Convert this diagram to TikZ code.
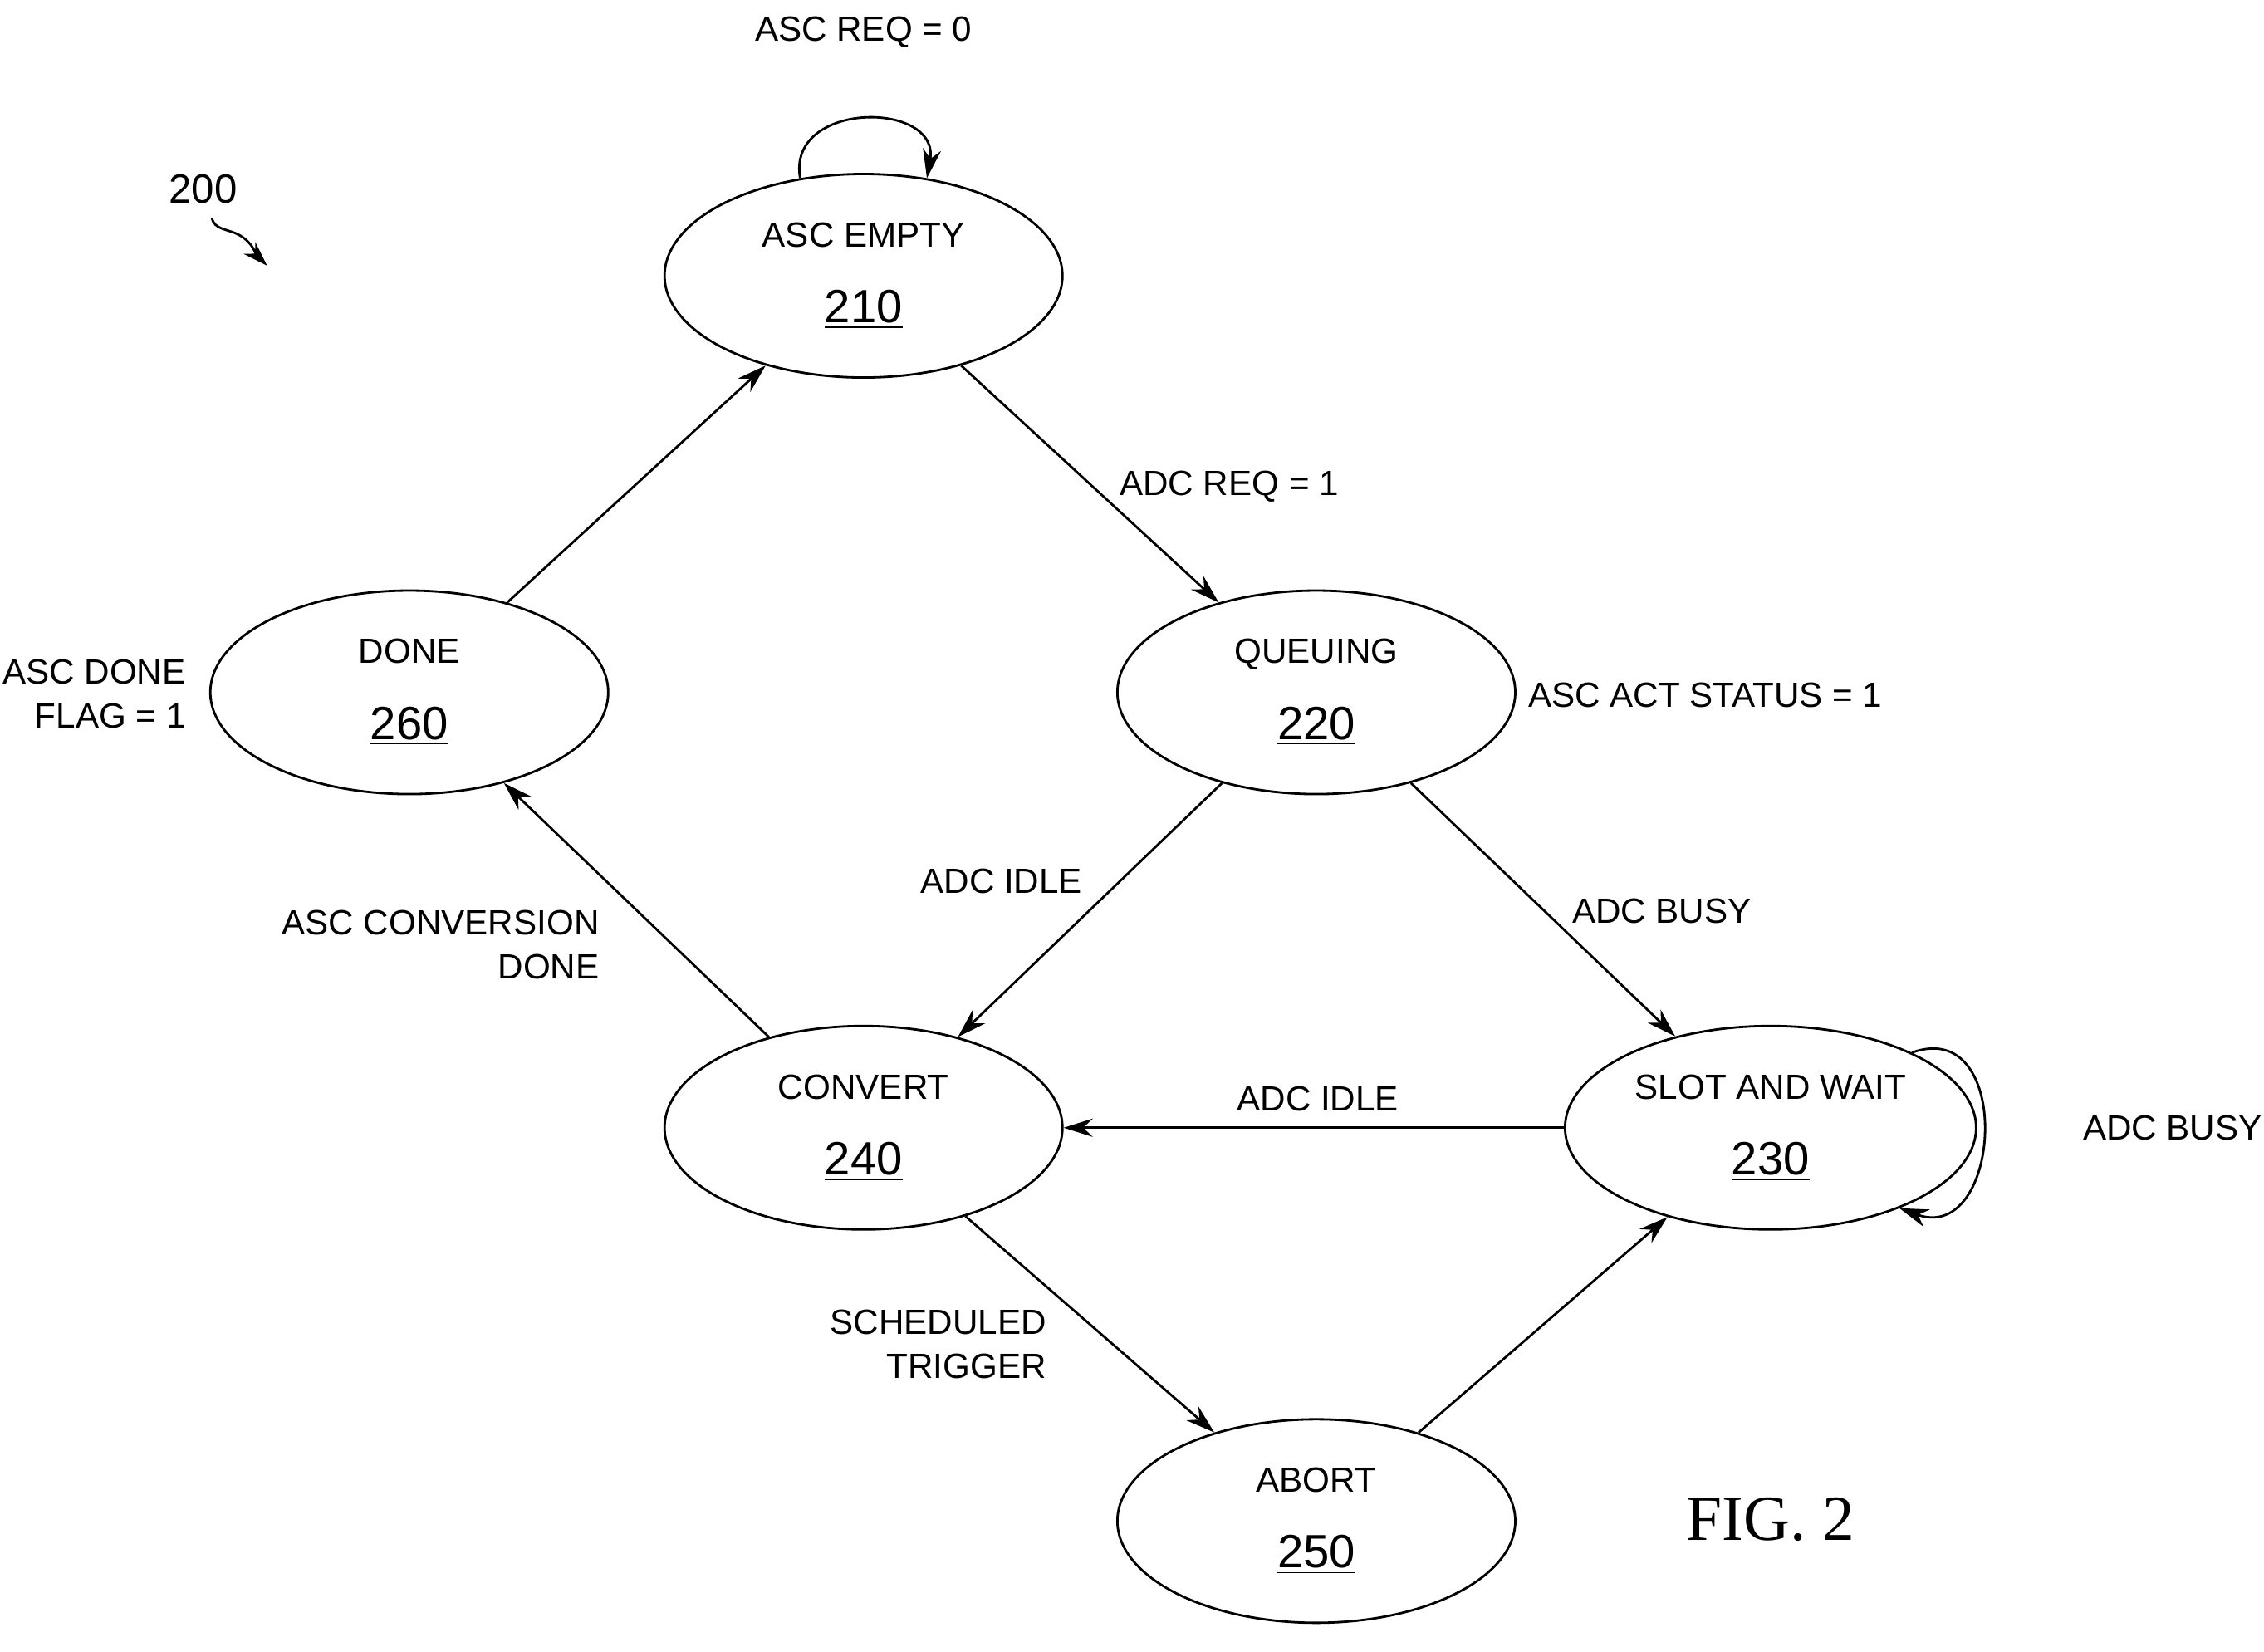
\documentclass[tikz,border=0pt]{standalone}
\usepackage{fontspec}
\setmainfont{Liberation Serif}
\setsansfont{Liberation Sans}
\usetikzlibrary{shapes.geometric,arrows.meta,decorations.pathmorphing}
\tikzset{
  state/.style={draw, thick, ellipse, minimum width=4.79cm, minimum height=2.45cm, align=center, font=\sffamily\fontsize{12}{26}\selectfont},
  trans/.style={thick, -{Stealth[length=0.35cm, width=0.22cm]}},
  lbl/.style={font=\sffamily\fontsize{12}{15}\selectfont, align=center}
}
\newcommand{\statetext}[2]{#1\\{\fontsize{16}{18}\selectfont\underline{#2}}}
\begin{document}
\begin{tikzpicture}[x=0.017475cm, y=-0.017475cm]
  \useasboundingbox (0,0) rectangle (1560,1138);
  % states
  \node[state] (empty) at (595,190) {\statetext{ASC EMPTY}{210}};
  \node[state] (queue) at (907,477) {\statetext{QUEUING}{220}};
  \node[state] (done) at (282,477) {\statetext{DONE}{260}};
  \node[state] (conv) at (595,777) {\statetext{CONVERT}{240}};
  \node[state] (slot) at (1220,777) {\statetext{SLOT AND WAIT}{230}};
  \node[state] (abort) at (907,1048) {\statetext{ABORT}{250}};
  % transitions
  \draw[trans] (done) -- (empty);
  \draw[trans] (empty) -- (queue);
  \draw[trans] (queue) -- (conv);
  \draw[trans] (queue) -- (slot);
  \draw[trans] (slot) -- (conv);
  \draw[trans] (conv) -- (done);
  \draw[trans] (conv) -- (abort);
  \draw[trans] (abort) -- (slot);
  \draw[trans] (empty.123) to[out=100, in=80, looseness=1.6] (empty.57);
  \draw[trans] (slot.28) to[out=20, in=-20, looseness=1.8] (slot.-32);
  % labels
  \node[lbl] (lreq0) at (595,22) {ASC REQ = 0};
  \node[lbl] (lreq1) at (847,335) {ADC REQ = 1};
  \node[lbl] (lact) at (1175,479) {ASC ACT STATUS = 1};
  \node[lbl] (lidle1) at (690,607) {ADC IDLE};
  \node[lbl] (lbusy1) at (1145,628) {ADC BUSY};
  \node[lbl] (lidle2) at (908,757) {ADC IDLE};
  \node[lbl] (lbusy2) at (1497,777) {ADC BUSY};
  \node[lbl, anchor=east, align=right] (lconv) at (420,651) {ASC CONVERSION\\DONE};
  \node[lbl, anchor=east, align=right] (lsched) at (728,926) {SCHEDULED\\TRIGGER};
  \node[lbl, anchor=east, align=right] (lflag) at (135,478) {ASC DONE\\FLAG = 1};
  \node[font=\sffamily\fontsize{14}{16}\selectfont] (ref) at (140,130) {200};
  \coordinate (refend) at (184,183);
  \draw[thick, -{Stealth[length=0.3cm, width=0.2cm]}] (146,150) to[out=-80, in=150] (165,162) to[out=-30, in=135] (refend);
  \node[font=\rmfamily\fontsize{22}{24}\selectfont] (fig) at (1220,1047) {FIG. 2};
\end{tikzpicture}
\end{document}
